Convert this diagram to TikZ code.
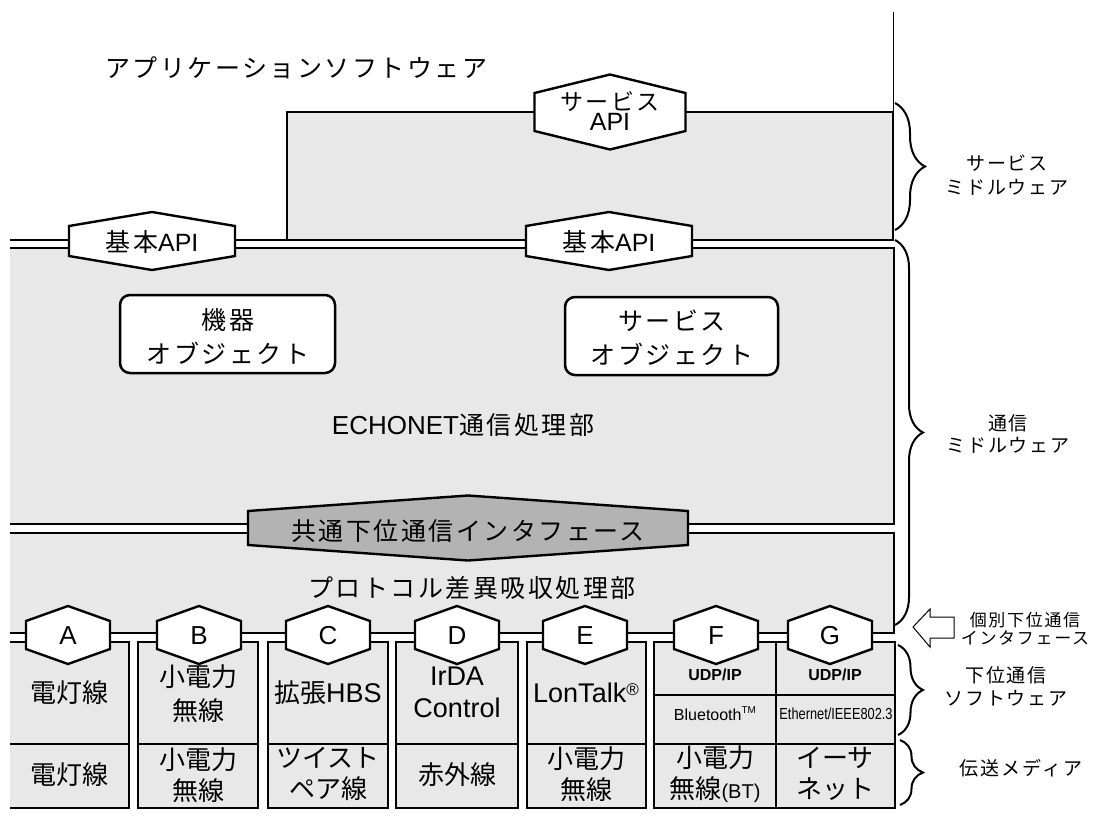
\documentclass[tikz,border=0pt]{standalone}
\usepackage{fontspec}
\usepackage{graphicx}
\setmainfont{Liberation Sans}
\newfontfamily\jp{Noto Sans CJK JP}
\newfontfamily\jps{Noto Sans CJK JP}[LetterSpace=10]
\usetikzlibrary{decorations.pathreplacing}
\definecolor{boxgray}{HTML}{E8E8E8}
\definecolor{hexgray}{HTML}{B3B3B3}
\newcommand\fs[2]{\fontsize{#1}{#2}\selectfont}
% hexagon: cx, cy, half width, half height, side half height, fill
\newcommand\hexa[6]{%
  \draw[hexline,fill=#6] ({#1-#3},{#2-#5}) -- (#1,{#2-#4}) -- ({#1+#3},{#2-#5})
    -- ({#1+#3},{#2+#5}) -- (#1,{#2+#4}) -- ({#1-#3},{#2+#5}) -- cycle;}
\tikzset{
  lbl/.style={inner sep=0pt, align=center},
  hexline/.style={line width=2.4pt, line join=miter},
  boxline/.style={line width=2pt, fill=boxgray},
  bigbox/.style={line width=2.4pt, fill=boxgray},
  rbox/.style={line width=2.5pt, rounded corners=10pt, fill=white},
  bracestyle/.style={line width=2pt, decorate},
}
\begin{document}
\begin{tikzpicture}[x=1pt,y=-1pt]
\useasboundingbox (0,0) rectangle (1116,830);
\begin{scope}
\clip (10,0) rectangle (1116,830);
% service middleware box
\draw[line width=1pt] (893,12) -- (893,112);
\draw[line width=1.2pt, fill=boxgray] (287,112) rectangle (893,240);
\draw[line width=1.5pt] (0,240) -- (287,240);
% ECHONET box
\draw[bigbox] (0,248) rectangle (894,524);
% protocol box
\draw[bigbox] (0,533) rectangle (894,633);
% lower boxes
\foreach \xa/\xb in {0/129,138/258,268/388,396/518,527/646}{
  \draw[boxline] (\xa,642) rectangle (\xb,744);
  \draw[boxline] (\xa,744) rectangle (\xb,808);
}
\draw[boxline] (654,642) rectangle (895,744);
\draw[boxline] (654,744) rectangle (895,808);
\draw[line width=2pt] (776,642) -- (776,808);
\draw[line width=2pt] (654,695) -- (895,695);
% rounded boxes
\draw[rbox] (120,295) rectangle (335,373);
\draw[rbox] (565,297) rectangle (778,375);
% hexagons
\hexa{610}{112}{75.5}{37.5}{19}{white}
\hexa{152}{241}{83}{29}{15}{white}
\hexa{609}{241}{83}{29}{15}{white}
\hexa{468}{528}{220}{32.5}{17}{hexgray}
\foreach \cx in {68,199,328,457,585,716,830}{
  \hexa{\cx}{635}{42}{29}{14}{white}
}
\end{scope}
% texts
\node[lbl, font=\fs{25}{28}\jps] (title) at (296,68) {アプリケーションソフトウェア};
\node[lbl] (sapi) at (610,111) {{\fs{23}{23}\jps サービス}\\[1pt]{\fs{25}{23}API}};
\node[lbl] (kapi1) at (152,242) {{\fs{25}{28}\jps 基本}{\fs{25}{28}API}};
\node[lbl] (kapi2) at (609,242) {{\fs{25}{28}\jps 基本}{\fs{25}{28}API}};
\node[lbl, font=\fs{25}{34}\jps] (kiki) at (228,337) {機器\\オブジェクト};
\node[lbl, font=\fs{25}{34}\jps] (sobj) at (672,338) {サービス\\オブジェクト};
\node[lbl] (echo) at (463,425) {{\fs{26}{28}ECHONET}{\fs{25}{28}\jps 通信処理部}};
\node[lbl, font=\fs{25}{28}\jps] (kyotsu) at (468,531) {共通下位通信インタフェース};
\node[lbl, font=\fs{25}{28}\jps] (proto) at (472,588) {プロトコル差異吸収処理部};
% hex letters
\foreach \cx/\t/\n in {68/A/ha,199/B/hb,328/C/hc,457/D/hd,585/E/he,716/F/hf,830/G/hg}{
  \node[lbl, font=\fs{26}{28}] (\n) at (\cx,636) {\t};
}
% software row
\node[lbl, font=\fs{26}{33}\jp] (sa) at (69,693) {電灯線};
\node[lbl, font=\fs{26}{34}\jp] (sb) at (198,694) {小電力\\無線};
\node[lbl] (sc) at (328,693) {{\fs{26}{28}\jp 拡張}{\fs{27}{28}HBS}};
\node[lbl, font=\fs{27}{32}] (sd) at (457,692) {IrDA\\Control};
\node[lbl, font=\fs{27}{30}] (se) at (586,693) {LonTalk\raisebox{7pt}{\fs{17}{17}®}};
\node[lbl, font=\fs{16}{17}\bfseries] (sf1) at (715,675) {UDP/IP};
\node[lbl, font=\fs{16}{17}\bfseries] (sg1) at (835,675) {UDP/IP};
\node[lbl, font=\fs{16}{18}] (sf2) at (715,714) {Bluetooth\raisebox{7pt}{\fs{10}{10}TM}};
\node[lbl] (sg2) at (836,714) {\scalebox{0.8}[1]{\fs{16}{18}Ethernet/IEEE802.3}};
% media row
\node[lbl, font=\fs{26}{33}\jp] (ma) at (69,775) {電灯線};
\node[lbl, font=\fs{26}{31}\jp] (mb) at (198,775) {小電力\\無線};
\node[lbl, font=\fs{26}{31}\jp] (mc) at (328,774) {ツイスト\\ペア線};
\node[lbl, font=\fs{26}{33}\jp] (md) at (457,775) {赤外線};
\node[lbl, font=\fs{26}{31}\jp] (me) at (586,774) {小電力\\無線};
\node[lbl, font=\fs{26}{31}\jp] (mf) at (715,774) {小電力\\無線{\fs{20}{20}\rmfamily (BT)}};
\node[lbl, font=\fs{26}{31}\jp] (mg) at (835,774) {イーサ\\ネット};
% braces
\draw[bracestyle, decoration={brace, amplitude=30pt}] (895,103) -- (895,230);
\draw[bracestyle, decoration={brace, amplitude=28pt}] (895,240) -- (895,625);
\draw[bracestyle, decoration={brace, amplitude=25pt}] (898,645) -- (898,735);
\draw[bracestyle, decoration={brace, amplitude=23pt}] (900,740) -- (900,805);
% arrow
\draw[line width=1pt] (913,627) -- (930,609) -- (930,617) -- (954,617) -- (954,638) -- (930,638) -- (930,647) -- cycle;
% right labels
\node[lbl, font=\fs{19}{24}\jps] (rl1) at (1007,175) {サービス\\ミドルウェア};
\node[lbl, font=\fs{19}{22}\jps] (rl2) at (1008,434) {通信\\ミドルウェア};
\node[lbl, font=\fs{17}{18}\jps] (rl3) at (1025,629) {個別下位通信\\インタフェース};
\node[lbl, font=\fs{19}{23}\jps] (rl4) at (1006,686) {下位通信\\ソフトウェア};
\node[lbl, font=\fs{19}{23}\jps] (rl5) at (1021,768) {伝送メディア};
\end{tikzpicture}
\end{document}
